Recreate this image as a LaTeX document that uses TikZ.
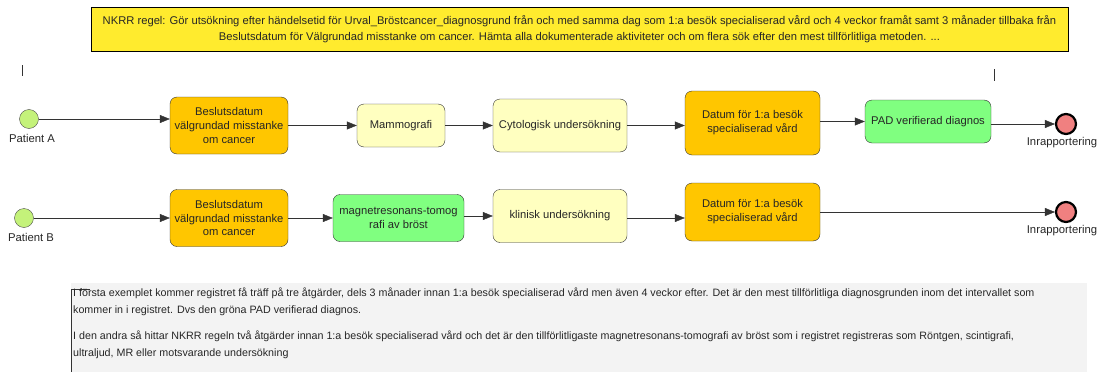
\documentclass[tikz,border=0pt]{standalone}
\usepackage{fontspec}
\setmainfont{Liberation Sans}
\usetikzlibrary{arrows.meta}
\definecolor{beslutorange}{HTML}{FFC600}
\definecolor{aktljus}{HTML}{FFFFC0}
\definecolor{padgreen}{HTML}{80FF80}
\definecolor{regelyellow}{HTML}{FFEB2E}
\definecolor{startgreen}{HTML}{C4F27A}
\definecolor{endred}{HTML}{F08080}
\definecolor{notegray}{HTML}{F3F3F3}
\tikzset{
  stepbox/.style={draw=black!80, rounded corners=7pt, align=center,
    font=\fontsize{11.2}{13.8}\selectfont, text=black!85, inner sep=2pt},
  beslut/.style={stepbox, fill=beslutorange},
  aktivitet/.style={stepbox, fill=aktljus},
  godkand/.style={stepbox, fill=padgreen},
  startev/.style={circle, draw=black!70, fill=startgreen, minimum size=19pt, inner sep=0pt},
  slutev/.style={circle, draw=black, line width=2.2pt, fill=endred, minimum size=20pt, inner sep=0pt},
  evlabel/.style={font=\fontsize{11.3}{13}\selectfont, text=black!85},
  flow/.style={draw=black!80, -{Triangle[length=10pt,width=8pt]}},
}
\begin{document}
\begin{tikzpicture}[x=1pt,y=-1pt]
	\useasboundingbox (0,0) rectangle (1106,372);
	% regel
	\node[draw=black, line width=0.8pt, fill=regelyellow, minimum width=977pt, minimum height=44pt,
		align=center, font=\fontsize{11.2}{16}\selectfont, text=black!85] (regel) at (579.5,29)
		{NKRR regel: Gör utsökning efter händelsetid för Urval\_Bröstcancer\_diagnosgrund från och med samma dag som 1:a besök specialiserad vård och 4 veckor framåt samt 3 månader tillbaka från\\
		Beslutsdatum för Välgrundad misstanke om cancer. Hämta alla dokumenterade aktiviteter och om flera sök efter den mest tillförlitliga metoden. ...};
	\draw[black!80] (22,65) -- (22,76);
	\draw[black!80] (994,69) -- (994,81);
	% patient A
	\node[startev] (startA) at (29,119) {};
	\node[evlabel] (labelA) at (32,138) {Patient A};
	\node[beslut, minimum width=118pt, minimum height=57pt] (a1) at (229,125.5) {Beslutsdatum\\välgrundad misstanke\\om cancer};
	\node[aktivitet, minimum width=88pt, minimum height=43pt] (a2) at (401,125.5) {Mammografi};
	\node[aktivitet, minimum width=134pt, minimum height=53pt] (a3) at (560,125.5) {Cytologisk undersökning};
	\node[beslut, minimum width=135pt, minimum height=64pt] (a4) at (752.5,123) {Datum för 1:a besök\\specialiserad vård};
	\node[godkand, minimum width=126pt, minimum height=43pt] (a5) at (928,121.5) {PAD verifierad diagnos};
	\node[slutev] (endA) at (1066,124) {};
	\node[evlabel] (rapA) at (1062,143) {Inrapportering};
	\draw[flow] (startA.east) -- (startA.east -| a1.west);
	\draw[flow] (a1) -- (a2);
	\draw[flow] (a2) -- (a3);
	\draw[flow] (a3.east) -- (a3.east -| a4.west);
	\draw[flow] (a4.east |- a5.west) -- (a5.west);
	\draw[flow] (a5.east |- endA.west) -- (endA.west);
	% patient B
	\node[startev] (startB) at (24,218) {};
	\node[evlabel] (labelB) at (31,237) {Patient B};
	\node[beslut, minimum width=118pt, minimum height=57pt] (b1) at (229,218) {Beslutsdatum\\välgrundad misstanke\\om cancer};
	\node[godkand, minimum width=131pt, minimum height=47pt] (b2) at (398.5,218) {magnetresonans-tomog\\rafi av bröst};
	\node[aktivitet, minimum width=134pt, minimum height=53pt] (b3) at (560,216) {klinisk undersökning};
	\node[beslut, minimum width=135pt, minimum height=58pt] (b4) at (752.5,212) {Datum för 1:a besök\\specialiserad vård};
	\node[slutev] (endB) at (1066,212) {};
	\node[evlabel] (rapB) at (1062,231) {Inrapportering};
	\draw[flow] (startB.east) -- (startB.east -| b1.west);
	\draw[flow] (b1.east |- b2.west) -- (b2.west);
	\draw[flow] (b2.east |- b3.west) -- (b3.west);
	\draw[flow] (b3.east |- 0,218) -- (b4.west |- 0,218);
	\draw[flow] (b4.east |- endB.west) -- (endB.west);
	% kommentar
	\fill[notegray] (71,283) rectangle (1087,372);
	\draw[black!80] (90,289) -- (71,289) -- (71,372);
	\node[anchor=north west, align=left, inner sep=0pt, font=\fontsize{10.7}{16.5}\selectfont, text=black!85] (kommentar) at (73,288)
		{I första exemplet kommer registret få träff på tre åtgärder, dels 3 månader innan 1:a besök specialiserad vård men även 4 veckor efter. Det är den mest tillförlitliga diagnosgrunden inom det intervallet som\\
		kommer in i registret. Dvs den gröna PAD verifierad diagnos.\\[10pt]
		I den andra så hittar NKRR regeln två åtgärder innan 1:a besök specialiserad vård och det är den tillförlitligaste magnetresonans-tomografi av bröst som i registret registreras som Röntgen, scintigrafi,\\
		ultraljud, MR eller motsvarande undersökning};
\end{tikzpicture}
\end{document}
